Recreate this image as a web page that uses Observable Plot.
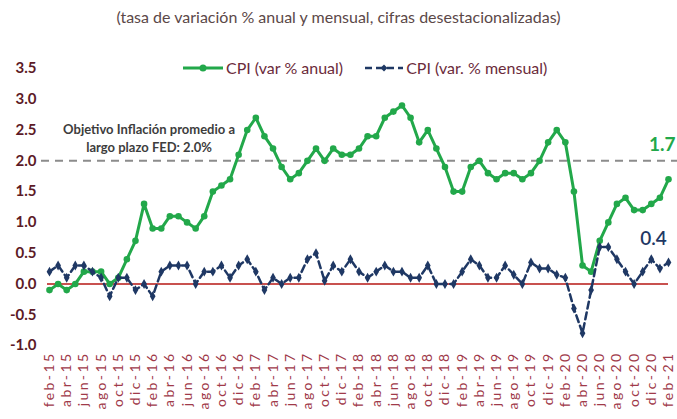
<!DOCTYPE html>
<html>
<head>
<meta charset="utf-8">
<script src="https://cdn.jsdelivr.net/npm/d3@7"></script>
<script src="https://cdn.jsdelivr.net/npm/@observablehq/plot@0.6"></script>
<style>
  body { margin: 0; background: #fff; }
  #wrap { position: relative; width: 677px; height: 419px; overflow: hidden; font-family: Lato, "DejaVu Sans", sans-serif; }
  #chart { position: absolute; left: 0; top: 0; }
  #sub { position: absolute; top: 7px; left: 0; width: 677px; text-align: center; font-size: 16px; color: #5b4848; }
  #legend { position: absolute; top: 58px; left: 183px; display: flex; align-items: center; font-size: 16px; color: #6b2b3b; white-space: nowrap; }
  #legend .item { display: flex; align-items: center; }
  #legend svg { margin-right: 3px; }
  g[aria-label="y-axis tick label"] { fill: #5c1a26; font-weight: 700; font-size: 15px; }
  g[aria-label="x-axis tick label"] { fill: #a03a4a; font-size: 14px; letter-spacing: 2.4px; }
</style>
</head>
<body>
<div id="wrap">
  <div id="chart"></div>
  <div id="sub">(tasa de variación % anual y mensual, cifras desestacionalizadas)</div>
  <div id="legend">
    <span class="item"><svg width="40" height="12"><line x1="0" y1="6" x2="40" y2="6" stroke="#22a84a" stroke-width="3"/><circle cx="20" cy="6" r="3.5" fill="#22a84a"/></svg><span>CPI (var % anual)</span></span>
    <span class="item" style="margin-left:22px"><svg width="38" height="12"><line x1="0" y1="6" x2="38" y2="6" stroke="#1f3864" stroke-width="2.5" stroke-dasharray="7,4"/><path d="M19,2.5 L22.5,6 L19,9.5 L15.5,6 Z" fill="#1f3864"/></svg><span>CPI (var. % mensual)</span></span>
  </div>
</div>
<script>
// ---- data ----
const monthNames = ["ene","feb","mar","abr","may","jun","jul","ago","sep","oct","nov","dic"];
const startYear = 15, startMonth = 1, nPeriods = 73; // feb-15 .. feb-21
const periods = Array.from({length: nPeriods}, (_, i) => {
  const m = (startMonth + i) % 12;
  const y = startYear + Math.floor((startMonth + i) / 12);
  return `${monthNames[m]}-${y}`;
});
const tickLabels = periods.filter((_, i) => i % 2 === 0);

const cpiAnual = [
  -0.1, 0.0, -0.1, 0.0, 0.2, 0.2, 0.2, 0.0, 0.1, 0.4, 0.7,
  1.3, 0.9, 0.9, 1.1, 1.1, 1.0, 0.9, 1.1, 1.5, 1.6, 1.7, 2.1,
  2.5, 2.7, 2.4, 2.2, 1.9, 1.7, 1.8, 2.0, 2.2, 2.0, 2.2, 2.1,
  2.1, 2.2, 2.4, 2.4, 2.7, 2.8, 2.9, 2.7, 2.3, 2.5, 2.2, 1.9,
  1.5, 1.5, 1.9, 2.0, 1.8, 1.7, 1.8, 1.8, 1.7, 1.8, 2.0, 2.3,
  2.5, 2.3, 1.5, 0.3, 0.2, 0.7, 1.0, 1.3, 1.4, 1.2, 1.2, 1.3,
  1.4, 1.7
];
const cpiMensual = [
  0.2, 0.3, 0.1, 0.3, 0.3, 0.2, 0.1, -0.2, 0.1, 0.1, -0.1,
  0.0, -0.2, 0.2, 0.3, 0.3, 0.3, 0.0, 0.2, 0.2, 0.3, 0.1, 0.3,
  0.4, 0.2, -0.1, 0.1, 0.0, 0.1, 0.1, 0.4, 0.5, 0.05, 0.3, 0.2,
  0.4, 0.2, 0.1, 0.2, 0.3, 0.2, 0.2, 0.1, 0.1, 0.3, 0.0, 0.0,
  0.0, 0.2, 0.4, 0.3, 0.1, 0.1, 0.3, 0.15, 0.0, 0.35, 0.25, 0.25,
  0.15, 0.1, -0.4, -0.8, -0.1, 0.6, 0.6, 0.4, 0.2, 0.0, 0.2, 0.4,
  0.25, 0.35
];
const yTicks = [-1.0, -0.5, 0.0, 0.5, 1.0, 1.5, 2.0, 2.5, 3.0, 3.5];
const fedTarget = 2.0;
const targetNote = "Objetivo Inflación promedio a\nlargo plazo FED: 2.0%";

const anual = periods.map((p, i) => ({p, v: cpiAnual[i]}));
const mensual = periods.map((p, i) => ({p, v: cpiMensual[i]}));
const lastA = anual[anual.length - 1];
const lastM = mensual[mensual.length - 1];

const green = "#22a84a", navy = "#1f3864";

const chart = Plot.plot({
  width: 677,
  height: 419,
  marginLeft: 49,
  marginRight: 9,
  marginTop: 68,
  marginBottom: 74,
  style: {fontFamily: 'Lato, "DejaVu Sans", sans-serif', background: "transparent", overflow: "visible"},
  x: {type: "point", domain: periods, padding: 0, axis: null},
  y: {domain: [-1, 3.5], axis: null},
  marks: [
    Plot.axisY(yTicks, {tickSize: 0, tickPadding: 13, tickFormat: d => d.toFixed(1), fontSize: 15, fontWeight: "bold", label: null}),
    Plot.axisX(tickLabels, {tickSize: 0, tickPadding: 6, tickRotate: -90, fontSize: 14, label: null}),
    Plot.ruleY([0], {stroke: "#c8514f", strokeWidth: 2, insetLeft: -2}),
    Plot.ruleY([fedTarget], {stroke: "#8c8c8c", strokeWidth: 2, strokeDasharray: "8,6", insetLeft: -8, insetRight: -12}),
    Plot.text([targetNote], {x: () => periods[11], y: () => 2.39, dx: 5, fontSize: 13, fontWeight: "bold", fill: "#3d3d3d", lineHeight: 1.4}),
    Plot.line(anual, {x: "p", y: "v", stroke: green, strokeWidth: 3}),
    Plot.dot(anual, {x: "p", y: "v", r: 3.3, fill: green, stroke: "none"}),
    Plot.line(mensual, {x: "p", y: "v", stroke: navy, strokeWidth: 2.5, strokeDasharray: "7,4"}),
    Plot.dot(mensual, {x: "p", y: "v", r: 3, symbol: "diamond", fill: navy, stroke: "none"}),
    Plot.text([lastA], {x: "p", y: () => 2.26, text: d => d.v.toFixed(1), dx: 7, textAnchor: "end", fontSize: 19, fontWeight: "bold", fill: green}),
    Plot.text([lastM], {x: "p", y: () => 0.73, text: d => (Math.round(d.v * 10) / 10).toFixed(1), dx: -15, fontSize: 19, fontWeight: 600, fill: navy})
  ]
});
document.getElementById("chart").appendChild(chart);
</script>
</body>
</html>
